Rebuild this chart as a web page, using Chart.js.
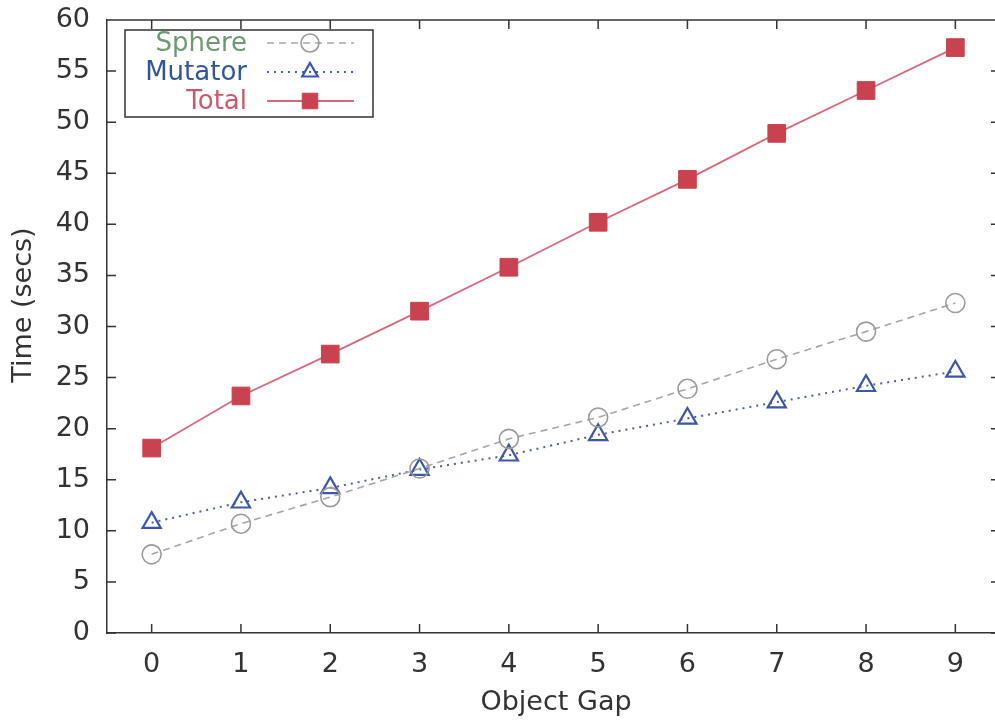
<!DOCTYPE html>
<html>
<head>
<meta charset="utf-8">
<script src="https://cdn.jsdelivr.net/npm/chart.js@4"></script>
<style>
  html, body { margin: 0; padding: 0; background: #fff; overflow: hidden; }
  #wrap { width: 1000px; height: 726px; }
</style>
</head>
<body>
<div id="wrap"><canvas id="gapChart" width="1000" height="726"></canvas></div>
<script>
// values
const gaps = [0, 1, 2, 3, 4, 5, 6, 7, 8, 9];
const sphere = [7.7, 10.7, 13.3, 16.1, 19.0, 21.1, 23.9, 26.8, 29.5, 32.3];
const mutator = [10.8, 12.8, 14.2, 16.0, 17.4, 19.4, 21.0, 22.6, 24.2, 25.6];
const total = [18.1, 23.2, 27.3, 31.5, 35.8, 40.2, 44.4, 48.9, 53.1, 57.3];
const xTicks = [0, 1, 2, 3, 4, 5, 6, 7, 8, 9];
const yTicks = [0, 5, 10, 15, 20, 25, 30, 35, 40, 45, 50, 55, 60];
const xTitle = 'Object Gap';
const yTitle = 'Time (secs)';

const FONT = "'DejaVu Sans', sans-serif";
const INK = '#333333';

const toXY = vals => gaps.map((g, i) => ({ x: g, y: vals[i] }));

const series = [
    {
        label: 'Sphere', text: '#6f9a6f', data: toXY(sphere),
        borderColor: '#a6a6a6', borderWidth: 1.6, borderDash: [7, 5],
        pointStyle: 'circle', pointRadius: 9.5, pointBorderColor: '#9a9a9a',
        pointBackgroundColor: 'rgba(0,0,0,0)', pointBorderWidth: 1.6
    },
    {
        label: 'Mutator', text: '#2f5597', data: toXY(mutator),
        borderColor: '#4d5f9e', borderWidth: 2, borderDash: [2, 5],
        pointStyle: 'triangle', pointRadius: 10.5, pointBorderColor: '#3a58a6',
        pointBackgroundColor: 'rgba(0,0,0,0)', pointBorderWidth: 2.2
    },
    {
        label: 'Total', text: '#c85a6a', data: toXY(total),
        borderColor: '#d7687e', borderWidth: 1.8, borderDash: [],
        pointStyle: 'rect', pointRadius: 12.5, pointBorderColor: '#c9424f',
        pointBackgroundColor: '#c9424f', pointBorderWidth: 1
    }
];

// gnuplot-like frame: top line, inward ticks on all four sides, axis titles, boxed key
const framePlugin = {
    id: 'frame',
    afterDatasetsDraw(chart) {
        const { ctx, chartArea: a, scales: { x, y } } = chart;
        ctx.save();
        ctx.strokeStyle = INK;
        ctx.lineWidth = 1.5;
        ctx.beginPath();
        ctx.moveTo(a.left, a.top);
        ctx.lineTo(a.right, a.top);
        xTicks.forEach(v => {
            const px = x.getPixelForValue(v);
            ctx.moveTo(px, a.bottom); ctx.lineTo(px, a.bottom - 9);
            ctx.moveTo(px, a.top); ctx.lineTo(px, a.top + 9);
        });
        yTicks.forEach(v => {
            const py = y.getPixelForValue(v);
            ctx.moveTo(a.left, py); ctx.lineTo(a.left + 9, py);
            ctx.moveTo(a.right, py); ctx.lineTo(a.right - 9, py);
        });
        ctx.stroke();

        // axis titles
        ctx.fillStyle = INK;
        ctx.font = '27px ' + FONT;
        ctx.textAlign = 'center';
        ctx.textBaseline = 'middle';
        ctx.fillText(xTitle, 556, 703);
        ctx.save();
        ctx.translate(24, 305);
        ctx.rotate(-Math.PI / 2);
        ctx.fillText(yTitle, 0, 0);
        ctx.restore();

        // key box
        const bx = 125, by = 30, bw = 248, bh = 87;
        ctx.fillStyle = '#fff';
        ctx.fillRect(bx, by, bw, bh);
        ctx.strokeRect(bx, by, bw, bh);
        const rows = [43, 72, 101];
        ctx.font = '26px ' + FONT;
        ctx.textAlign = 'right';
        ctx.textBaseline = 'middle';
        series.forEach((s, i) => {
            const ry = rows[i];
            ctx.fillStyle = s.text;
            ctx.fillText(s.label, 247, ry + 1);
            ctx.save();
            ctx.strokeStyle = s.borderColor;
            ctx.lineWidth = s.borderWidth;
            ctx.setLineDash(s.borderDash);
            ctx.beginPath();
            ctx.moveTo(267, ry); ctx.lineTo(354, ry);
            ctx.stroke();
            ctx.restore();
            ctx.save();
            ctx.strokeStyle = s.pointBorderColor;
            ctx.fillStyle = s.pointBackgroundColor;
            ctx.lineWidth = s.pointBorderWidth;
            Chart.helpers.drawPoint(ctx, {
                pointStyle: s.pointStyle, rotation: 0,
                radius: s.pointStyle === 'rect' ? 11 : 9, borderWidth: s.pointBorderWidth
            }, 310, ry);
            ctx.restore();
        });
        ctx.restore();
    }
};

new Chart(document.getElementById('gapChart').getContext('2d'), {
    type: 'line',
    data: {
        datasets: series.map(s => ({
            label: s.label, data: s.data,
            borderColor: s.borderColor, borderWidth: s.borderWidth, borderDash: s.borderDash,
            pointStyle: s.pointStyle, pointRadius: s.pointRadius,
            pointBorderColor: s.pointBorderColor, pointBackgroundColor: s.pointBackgroundColor,
            pointBorderWidth: s.pointBorderWidth, tension: 0, fill: false
        }))
    },
    options: {
        responsive: false,
        animation: false,
        layout: { autoPadding: false, padding: { top: 20, right: 0, left: 0, bottom: 0 } },
        plugins: { legend: { display: false }, tooltip: { enabled: false } },
        scales: {
            x: {
                type: 'linear', min: -0.5, max: 9.5,
                afterBuildTicks: s => { s.ticks = xTicks.map(v => ({ value: v })); },
                afterFit: s => { s.height = 93; s.paddingLeft = 0; s.paddingRight = 0; },
                grid: { display: true, drawOnChartArea: false, drawTicks: false },
                border: { display: true, color: INK, width: 1.5 },
                ticks: { color: INK, font: { family: FONT, size: 27 }, padding: 16, maxRotation: 0 }
            },
            y: {
                min: 0, max: 60,
                afterBuildTicks: s => { s.ticks = yTicks.map(v => ({ value: v })); },
                afterFit: s => { s.width = 107; s.paddingTop = 0; s.paddingBottom = 0; },
                grid: { display: true, drawOnChartArea: false, drawTicks: false },
                border: { display: true, color: INK, width: 1.5 },
                ticks: { color: INK, font: { family: FONT, size: 27 }, padding: 17 }
            }
        }
    },
    plugins: [framePlugin]
});
</script>
</body>
</html>
